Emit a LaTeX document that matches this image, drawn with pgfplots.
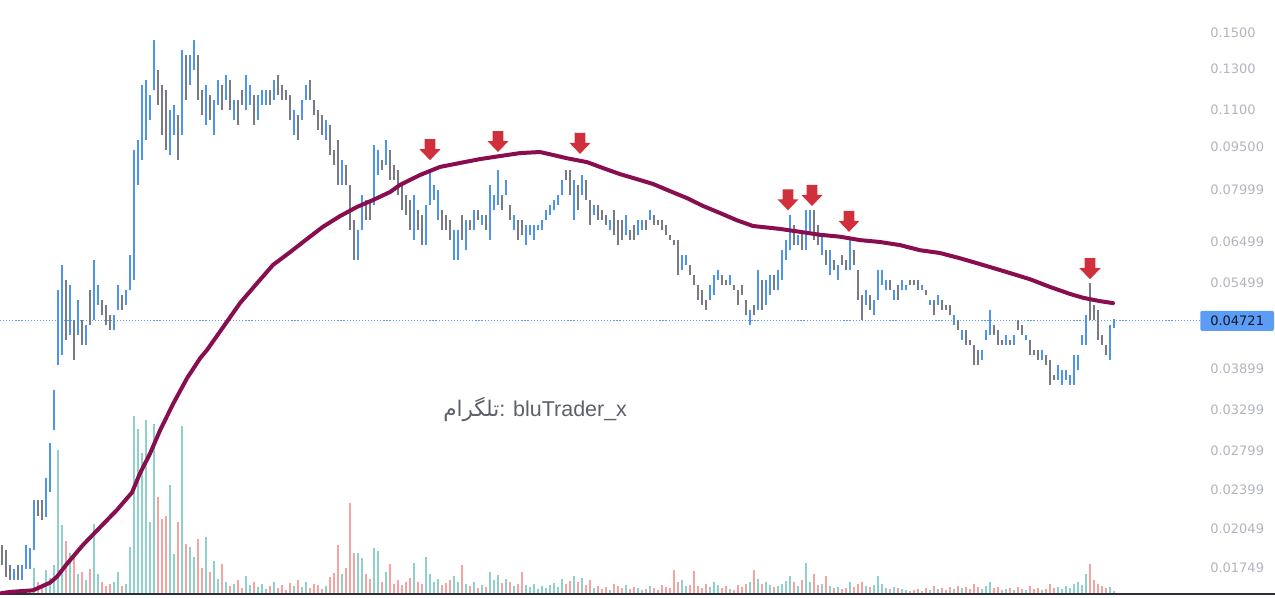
\documentclass[border=0pt]{standalone}
\usepackage{pgfplots}
\pgfplotsset{compat=1.18}
\usepackage{pgfplotstable}
\usepackage{fontspec}
\setmainfont{DejaVu Sans}
\newfontfamily\wmfont{Liberation Sans}
\newfontfamily\arabicfont[Script=Arabic]{DejaVu Sans}
\TeXXeTstate=1

\definecolor{cup}{HTML}{4D94F0}
\definecolor{cdn}{HTML}{787B86}
\definecolor{vup}{HTML}{8FD0C9}
\definecolor{vdn}{HTML}{F5A3A1}
\definecolor{cma}{HTML}{880E4F}
\definecolor{carrow}{HTML}{D12F3C}
\definecolor{ctick}{HTML}{B2B5BE}
\definecolor{cbox}{HTML}{5B9CF6}
\definecolor{cboxtext}{HTML}{131722}
\definecolor{cbase}{HTML}{2A2E39}
\definecolor{cwm}{HTML}{5D606B}

\pgfdeclareplotmark{dnarrow}{%
  \pgfpathmoveto{\pgfqpoint{0pt}{0pt}}%
  \pgfpathlineto{\pgfqpoint{7.9pt}{8.25pt}}%
  \pgfpathlineto{\pgfqpoint{4.1pt}{8.25pt}}%
  \pgfpathlineto{\pgfqpoint{4.1pt}{15.75pt}}%
  \pgfpathlineto{\pgfqpoint{-4.1pt}{15.75pt}}%
  \pgfpathlineto{\pgfqpoint{-4.1pt}{8.25pt}}%
  \pgfpathlineto{\pgfqpoint{-7.9pt}{8.25pt}}%
  \pgfpathclose
  \pgfusepathqfill
}

\begin{document}
% bars that closed up (blue): index, high, low, volume
\pgfplotstableread{
x hi lo vol
3 0.0174 0.0167 2
5 0.0177 0.0167 2
6 0.0192 0.0174 5
7 0.0190 0.0174 4
8 0.0230 0.0188 26
11 0.0251 0.0215 24
12 0.0289 0.0237 16
13 0.0357 0.0304 29
14 0.0534 0.0395 144
15 0.0591 0.0412 69
17 0.0545 0.0446 41
19 0.0513 0.0446 20
21 0.0464 0.0429 14
23 0.0602 0.0473 70
24 0.0545 0.0503 20
28 0.0483 0.0455 12
29 0.0545 0.0493 22
31 0.0534 0.0503 10
32 0.0615 0.0534 47
33 0.0937 0.0556 178
34 0.0976 0.0815 165
35 0.1218 0.0900 141
36 0.1242 0.0976 174
37 0.1170 0.1057 72
38 0.1458 0.1193 170
42 0.1101 0.0919 109
43 0.1124 0.0996 40
45 0.1401 0.0996 168
47 0.1374 0.1218 47
48 0.1458 0.1293 37
51 0.1218 0.1037 57
53 0.1146 0.0996 33
54 0.1242 0.1124 15
56 0.1268 0.1146 12
58 0.1146 0.1057 10
61 0.1268 0.1101 18
62 0.1218 0.1124 9
64 0.1170 0.1057 7
65 0.1193 0.1124 10
66 0.1193 0.1124 5
68 0.1242 0.1146 12
73 0.1101 0.0996 8
75 0.1146 0.1057 7
76 0.1218 0.1146 12
81 0.1057 0.0976 8
85 0.0900 0.0815 20
89 0.0680 0.0602 41
90 0.0783 0.0680 36
93 0.0957 0.0752 46
94 0.0937 0.0848 43
96 0.0976 0.0883 22
103 0.0783 0.0653 31
106 0.0752 0.0640 37
107 0.0865 0.0752 20
108 0.0815 0.0767 12
109 0.0798 0.0707 15
113 0.0680 0.0602 18
114 0.0680 0.0602 12
116 0.0707 0.0627 10
118 0.0736 0.0680 12
120 0.0722 0.0694 9
122 0.0815 0.0653 22
123 0.0783 0.0736 14
124 0.0865 0.0752 19
126 0.0831 0.0783 15
128 0.0722 0.0680 8
131 0.0694 0.0640 9
132 0.0694 0.0667 7
133 0.0694 0.0653 10
134 0.0694 0.0680 5
135 0.0707 0.0680 8
136 0.0736 0.0707 6
137 0.0752 0.0722 9
138 0.0767 0.0736 11
139 0.0783 0.0752 7
140 0.0831 0.0783 15
143 0.0831 0.0707 18
145 0.0848 0.0783 16
148 0.0752 0.0722 6
152 0.0707 0.0680 4
156 0.0722 0.0667 9
159 0.0707 0.0667 6
160 0.0707 0.0680 4
162 0.0736 0.0707 8
170 0.0615 0.0579 14
171 0.0615 0.0591 8
177 0.0545 0.0513 7
178 0.0568 0.0524 12
179 0.0579 0.0556 9
182 0.0568 0.0545 5
187 0.0493 0.0464 12
189 0.0579 0.0493 15
191 0.0556 0.0503 12
192 0.0568 0.0524 9
194 0.0579 0.0534 8
195 0.0627 0.0556 10
196 0.0653 0.0602 13
197 0.0722 0.0627 18
199 0.0667 0.0640 8
201 0.0736 0.0627 31
202 0.0736 0.0667 12
205 0.0667 0.0615 10
207 0.0627 0.0568 8
209 0.0591 0.0556 7
212 0.0653 0.0579 12
216 0.0534 0.0503 8
218 0.0513 0.0483 9
219 0.0579 0.0513 18
220 0.0579 0.0545 10
221 0.0556 0.0534 6
223 0.0534 0.0513 7
225 0.0556 0.0534 5
226 0.0545 0.0534 4
230 0.0545 0.0534 3
232 0.0513 0.0503 4
234 0.0524 0.0503 5
238 0.0483 0.0464 5
240 0.0455 0.0437 6
245 0.0420 0.0403 5
246 0.0455 0.0437 8
247 0.0493 0.0446 12
251 0.0446 0.0429 5
253 0.0446 0.0429 4
256 0.0446 0.0437 4
260 0.0420 0.0403 4
264 0.0395 0.0372 7
265 0.0387 0.0365 5
266 0.0387 0.0372 8
267 0.0380 0.0365 6
268 0.0412 0.0365 10
269 0.0412 0.0387 12
270 0.0446 0.0429 9
271 0.0483 0.0429 20
277 0.0464 0.0403 7
278 0.0475 0.0458 3
}\upbars
% bars that closed down (grey): index, high, low, volume
\pgfplotstableread{
x hi lo vol
0 0.0192 0.0177 3
1 0.0188 0.0169 2
2 0.0177 0.0167 4
4 0.0177 0.0167 3
9 0.0230 0.0216 12
10 0.0230 0.0212 8
16 0.0556 0.0437 53
18 0.0473 0.0403 38
20 0.0473 0.0429 22
22 0.0534 0.0464 25
25 0.0513 0.0483 12
26 0.0503 0.0464 8
27 0.0483 0.0455 10
30 0.0524 0.0493 8
39 0.1293 0.1124 97
40 0.1218 0.0996 75
41 0.1193 0.0937 78
44 0.1080 0.0900 72
46 0.1374 0.1146 50
49 0.1374 0.1146 55
50 0.1193 0.1080 26
52 0.1170 0.1057 22
55 0.1218 0.1101 30
57 0.1242 0.1101 8
59 0.1146 0.1037 14
60 0.1193 0.1124 6
63 0.1170 0.1037 12
67 0.1193 0.1124 8
69 0.1268 0.1170 6
70 0.1218 0.1146 9
71 0.1193 0.1146 4
72 0.1170 0.1057 11
74 0.1080 0.0976 14
77 0.1242 0.1146 6
78 0.1146 0.1080 10
79 0.1101 0.1016 9
80 0.1080 0.0996 5
82 0.1037 0.0919 17
83 0.0937 0.0883 21
84 0.0976 0.0815 49
86 0.0883 0.0815 26
87 0.0815 0.0680 91
88 0.0707 0.0602 41
91 0.0767 0.0707 20
92 0.0767 0.0707 15
95 0.0900 0.0865 12
97 0.0937 0.0831 30
98 0.0883 0.0831 10
99 0.0865 0.0783 14
100 0.0815 0.0736 9
101 0.0783 0.0722 12
102 0.0767 0.0680 16
104 0.0736 0.0680 12
105 0.0722 0.0640 10
110 0.0736 0.0680 9
111 0.0722 0.0680 11
112 0.0707 0.0653 14
115 0.0722 0.0653 29
117 0.0707 0.0680 8
119 0.0736 0.0707 6
121 0.0722 0.0680 7
125 0.0783 0.0736 11
127 0.0752 0.0707 12
129 0.0707 0.0653 10
130 0.0707 0.0667 22
141 0.0865 0.0831 10
142 0.0865 0.0783 13
144 0.0815 0.0736 12
146 0.0831 0.0767 9
147 0.0767 0.0694 14
149 0.0752 0.0707 8
150 0.0736 0.0707 5
151 0.0722 0.0694 7
153 0.0736 0.0667 10
154 0.0707 0.0640 8
155 0.0707 0.0653 6
157 0.0680 0.0653 5
158 0.0694 0.0653 7
161 0.0707 0.0680 5
163 0.0722 0.0694 6
164 0.0707 0.0694 4
165 0.0707 0.0680 9
166 0.0694 0.0667 7
167 0.0667 0.0653 6
168 0.0653 0.0640 24
169 0.0653 0.0568 12
172 0.0591 0.0568 9
173 0.0568 0.0545 23
174 0.0545 0.0513 8
175 0.0534 0.0503 6
176 0.0513 0.0493 10
180 0.0568 0.0545 6
181 0.0556 0.0545 8
183 0.0545 0.0534 4
184 0.0534 0.0503 9
185 0.0545 0.0524 7
186 0.0513 0.0483 10
188 0.0503 0.0483 24
190 0.0556 0.0493 10
193 0.0568 0.0534 7
198 0.0694 0.0640 12
200 0.0680 0.0627 14
203 0.0736 0.0653 20
204 0.0694 0.0640 9
206 0.0627 0.0591 18
208 0.0602 0.0579 6
210 0.0615 0.0591 5
211 0.0602 0.0579 6
213 0.0627 0.0591 7
214 0.0579 0.0513 10
215 0.0524 0.0473 12
217 0.0524 0.0493 7
222 0.0556 0.0534 5
224 0.0545 0.0513 6
227 0.0556 0.0545 3
228 0.0556 0.0545 4
229 0.0556 0.0534 5
231 0.0534 0.0524 6
233 0.0513 0.0483 8
235 0.0513 0.0493 6
236 0.0503 0.0493 4
237 0.0503 0.0483 7
239 0.0473 0.0455 8
241 0.0455 0.0429 7
242 0.0437 0.0429 5
243 0.0429 0.0395 10
244 0.0420 0.0395 7
248 0.0464 0.0446 6
249 0.0455 0.0429 7
250 0.0437 0.0429 4
252 0.0437 0.0429 6
254 0.0473 0.0455 7
255 0.0464 0.0446 5
257 0.0437 0.0412 8
258 0.0420 0.0412 5
259 0.0420 0.0403 6
261 0.0412 0.0395 5
262 0.0403 0.0365 10
263 0.0380 0.0372 6
272 0.0549 0.0473 30
273 0.0503 0.0473 14
274 0.0493 0.0437 10
275 0.0446 0.0429 8
276 0.0429 0.0412 6
}\dnbars

\begin{tikzpicture}
% volume pane
\begin{axis}[at={(0,0)}, anchor=south west, scale only axis,
  width=956.25pt, height=445.5pt,
  xmin=-0.5, xmax=318.25, ymin=0, ymax=594, hide axis]
\addplot[ycomb, draw=vup, line width=1.1pt, mark=none]
  table[x=x, y=vol] {\upbars};
\addplot[ycomb, draw=vdn, line width=1.1pt, mark=none]
  table[x=x, y=vol] {\dnbars};
\end{axis}
% price pane
\begin{axis}[at={(0,0)}, anchor=south west, scale only axis,
  width=956.25pt, height=445.5pt,
  xmin=-0.5, xmax=318.25,
  ymode=log, ymin=0.015765, ymax=0.171256,
  axis x line=bottom, axis y line=right,
  x axis line style={draw=cbase, line width=1.1pt, -},
  y axis line style={draw=none},
  xtick=\empty, major tick length=0pt,
  ytick={0.15,0.13,0.11,0.095,0.07999,0.06499,0.05499,0.03899,0.03299,0.02799,0.02399,0.02049,0.01749},
  yticklabels={0.1500,0.1300,0.1100,0.09500,0.07999,0.06499,0.05499,0.03899,0.03299,0.02799,0.02399,0.02049,0.01749},
  yticklabel style={anchor=west, inner sep=0pt, xshift=-48.75pt, text=ctick,
    font=\fontsize{9.75pt}{11pt}\selectfont},
  extra y ticks={0.04721}, extra y tick labels={0.04721},
  extra y tick style={grid=none, yticklabel style={fill=cbox, text=cboxtext,
    inner xsep=7.5pt, inner ysep=0pt, minimum height=15pt, xshift=-7.5pt,
    rounded corners=1.5pt}},
]
\addplot[cbox, line width=0.9pt, dash pattern=on 0.9pt off 1.4pt, mark=none]
  coordinates {(-0.5,0.04721) (299.5,0.04721)};

\addplot[only marks, mark size=0pt, mark options={draw=none, fill=none},
  error bars/.cd, y dir=plus, y explicit, error mark=none,
  error bar style={line width=1.2pt, draw=cup}]
  table[x=x, y=lo, y error expr=\thisrow{hi}-\thisrow{lo}] {\upbars};
\addplot[only marks, mark size=0pt, mark options={draw=none, fill=none},
  error bars/.cd, y dir=plus, y explicit, error mark=none,
  error bar style={line width=1.2pt, draw=cdn}]
  table[x=x, y=lo, y error expr=\thisrow{hi}-\thisrow{lo}] {\dnbars};

\addplot[cma, line width=3pt, line join=round, line cap=round, mark=none] coordinates {
(-0.5,0.0158) (2,0.0159) (7.75,0.0160) (12,0.0165) (13.75,0.0169) (16.25,0.0178)
(20.25,0.0192) (24.5,0.0206) (28.75,0.0221) (32.5,0.0237) (34.5,0.0256) (37,0.0277)
(39.5,0.0304) (42.75,0.0338) (46.25,0.0375) (49.5,0.0406) (51.25,0.0420) (55.25,0.0460)
(59.5,0.0507) (63.75,0.0549) (67.75,0.0591) (72,0.0622) (76.25,0.0656) (80.25,0.0689)
(84.5,0.0719) (88.75,0.0746) (92.75,0.0767) (97,0.0792) (99.5,0.0815) (104.5,0.0848)
(109.5,0.0876) (114.5,0.0890) (119.5,0.0904) (124.5,0.0915) (129.5,0.0926) (134.5,0.0930)
(137.75,0.0919) (141.25,0.0907) (146.25,0.0893) (150.25,0.0872) (154.5,0.0851)
(158.75,0.0834) (162.75,0.0818) (167,0.0795) (171.25,0.0773) (175.25,0.0749)
(179.5,0.0728) (183.75,0.0707) (187.75,0.0691) (192,0.0686) (194.5,0.0683)
(199.5,0.0675) (204.5,0.0667) (209.5,0.0662) (214.5,0.0653) (219.5,0.0648)
(224.5,0.0640) (229.5,0.0627) (234.5,0.0620) (239.5,0.0607) (242,0.0600) (247,0.0586)
(252,0.0572) (257,0.0558) (262,0.0541) (267,0.0526) (270.25,0.0518) (272,0.0515)
(274.5,0.0511) (277.75,0.0507)
};

\addplot[only marks, mark=dnarrow, color=carrow, mark options={fill=carrow, draw=none}]
  coordinates {(107,0.0900) (124,0.0930) (144.5,0.0923) (196.5,0.0736) (202.5,0.0749) (211.75,0.0675) (272,0.0558)};

\node[anchor=base west, inner sep=0pt, text=cwm, font=\wmfont\fontsize{16.1pt}{18pt}\selectfont]
  at (axis cs:110.25,0.0322) {{\arabicfont\beginR تلگرام\endR}: bluTrader\_x};
\end{axis}
\pgfresetboundingbox
\path[use as bounding box] (0,-3pt) rectangle (956.25pt,445.5pt);
\end{tikzpicture}
\end{document}
